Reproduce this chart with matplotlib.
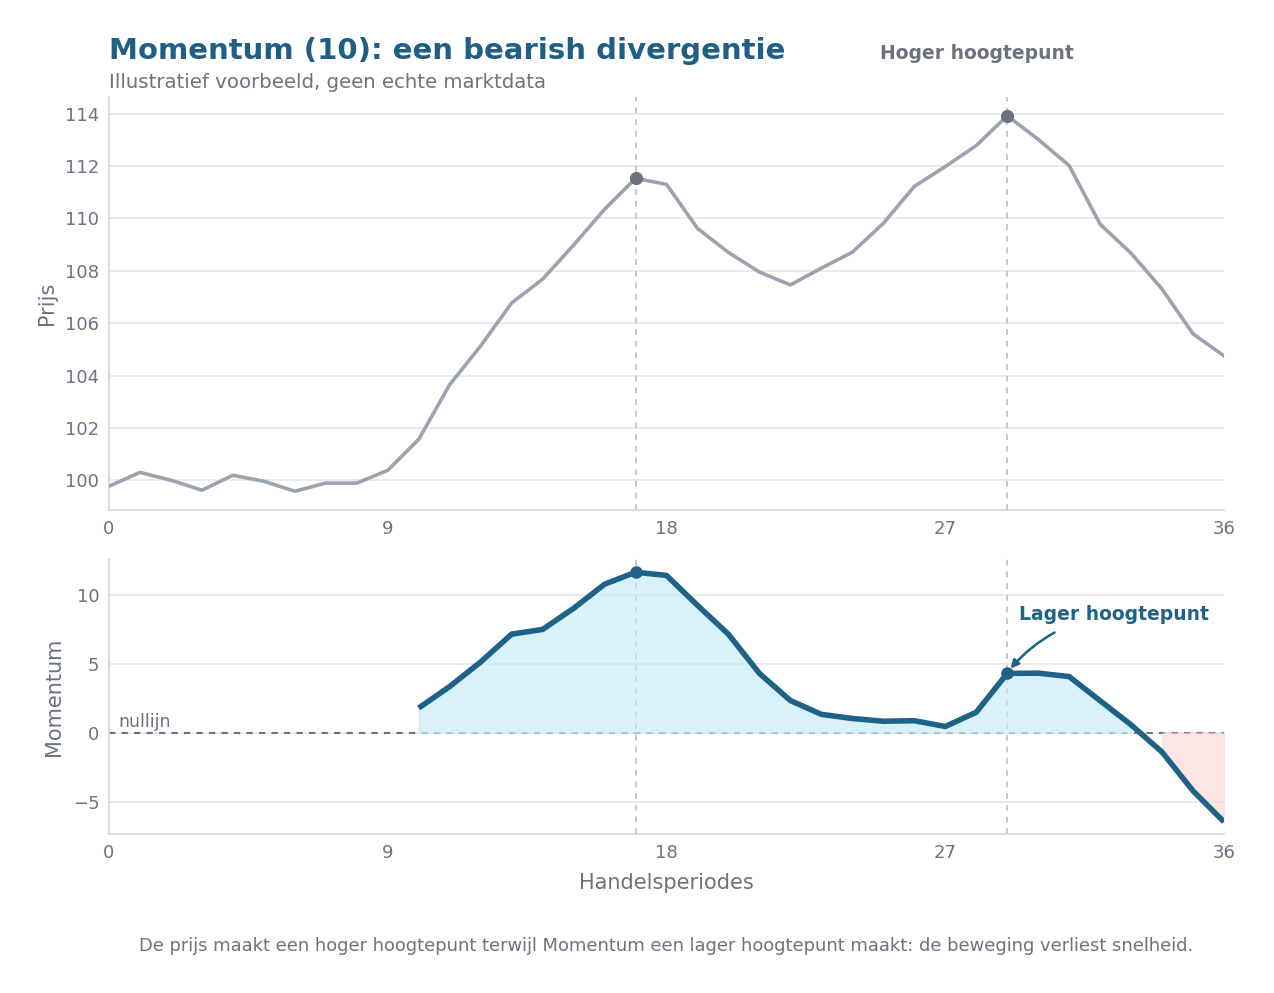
import numpy as np
import pandas as pd
import matplotlib
matplotlib.use('Agg')
import matplotlib.pyplot as plt

# DATA (illustrative price series)
periods = list(range(37))
price = [99.77, 100.30, 100.00, 99.62, 100.19, 99.96, 99.58, 99.89, 99.89, 100.38,
         101.56, 103.65, 105.13, 106.77, 107.68, 108.98, 110.35, 111.53, 111.30, 109.62,
         108.70, 107.95, 107.46, 108.10, 108.71, 109.81, 111.22, 111.98, 112.78, 113.92,
         113.02, 112.02, 109.78, 108.67, 107.30, 105.59, 104.75]
MOM_WINDOW = 10
peak_periods = [17, 29]
xticks = [0, 9, 18, 27, 36]

# COLOURS
TITLE_C = '#1f5f85'
MOM_C = '#1f6288'
PRICE_C = '#9ca3af'
DOT_C = '#6b7280'
TEXT_C = '#6b7280'
SPINE_C = '#d1d5db'
GRID_C = '#e5e7eb'

df = pd.DataFrame({'price': price}, index=periods)
df['mom'] = df['price'].diff(MOM_WINDOW)
mom = df['mom'].dropna()

fig = plt.figure(figsize=(12.74, 9.93), dpi=100)
ax1 = fig.add_axes([109/1274, (993-510)/993, 1115/1274, 413/993])
ax2 = fig.add_axes([109/1274, (993-834)/993, 1115/1274, 275/993])

for ax in (ax1, ax2):
    for s in ('top', 'right'):
        ax.spines[s].set_visible(False)
    for s in ('left', 'bottom'):
        ax.spines[s].set_color(SPINE_C)
        ax.spines[s].set_linewidth(1.2)
    ax.grid(axis='y', color=GRID_C, linewidth=1.2)
    ax.set_axisbelow(True)
    ax.tick_params(length=0, labelsize=13, colors=TEXT_C, pad=7)
    ax.set_xlim(0, 36)
    ax.set_xticks(xticks)
    for p in peak_periods:
        ax.axvline(p, color='#c4c8cf', linestyle=(0, (3, 3)), linewidth=1.4, zorder=1)

# Price panel
ax1.plot(df.index, df['price'], color=PRICE_C, linewidth=2.6, zorder=3)
ax1.plot(peak_periods, df.loc[peak_periods, 'price'], 'o', color=DOT_C, markersize=8.5, zorder=4)
ax1.set_ylabel('Prijs', fontsize=15, color=TEXT_C, labelpad=6)
ax1.margins(x=0)
ax1.annotate('Hoger hoogtepunt', xy=(29, df.loc[29, 'price']), xytext=(28.03, 116.3),
             ha='center', va='center', fontsize=13.5, fontweight='bold', color=TEXT_C,
             annotation_clip=False)

# Momentum panel
ax2.axhline(0, color=DOT_C, linestyle=(0, (3, 3)), linewidth=1.5, zorder=1)
ax2.fill_between(mom.index, mom.values, 0, where=mom.values >= 0, color='#c5ebf7', alpha=0.65, zorder=2)
ax2.fill_between(mom.index, mom.values, 0, where=mom.values < 0, color='#f8cfcc', alpha=0.5, zorder=2)
ax2.plot(mom.index, mom.values, color=MOM_C, linewidth=4, zorder=3, solid_capstyle='butt')
ax2.plot(peak_periods, mom.loc[peak_periods], 'o', color=MOM_C, markersize=8, zorder=4)
ax2.set_ylim(-7.35, 12.6)
ax2.set_ylabel('Momentum', fontsize=15, color=TEXT_C, labelpad=6)
ax2.set_xlabel('Handelsperiodes', fontsize=15, color=TEXT_C, labelpad=8)
ax2.text(0.3, 0.1, 'nullijn', fontsize=12.5, color=TEXT_C, va='bottom', ha='left')
ax2.annotate('Lager hoogtepunt', xy=(29.05, mom.loc[29] + 0.2), xytext=(32.45, 8.6),
             ha='center', va='center', fontsize=13.5, fontweight='bold', color=MOM_C,
             arrowprops=dict(arrowstyle='-|>', color=MOM_C, lw=1.8, mutation_scale=12,
                             shrinkA=10, shrinkB=2, connectionstyle='arc3,rad=0.2'))

# Titles and footer
fig.text(109/1274, 1 - 51/993, 'Momentum (10): een bearish divergentie', fontsize=21,
         fontweight='bold', color=TITLE_C, va='center', ha='left')
fig.text(109/1274, 1 - 83/993, 'Illustratief voorbeeld, geen echte marktdata', fontsize=14.2,
         color=TEXT_C, va='center', ha='left')
fig.text(666/1274, 1 - 946/993,
         'De prijs maakt een hoger hoogtepunt terwijl Momentum een lager hoogtepunt maakt: de beweging verliest snelheid.',
         fontsize=12.85, color=TEXT_C, va='center', ha='center')

plt.savefig('out.png', dpi=100)
